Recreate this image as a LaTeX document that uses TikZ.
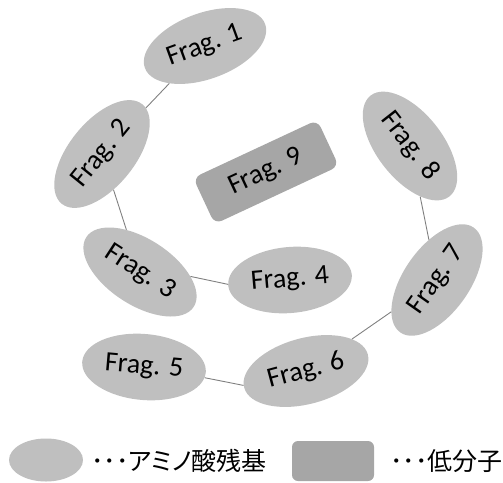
\documentclass[tikz,border=0pt]{standalone}
\usepackage{fontspec}
\setmainfont{Carlito}
\newfontfamily\jpfont[RawFeature=+palt]{Noto Sans CJK JP}
\usetikzlibrary{shapes.geometric}
\definecolor{fragfill}{HTML}{BFBFBF}
\definecolor{molfill}{HTML}{A6A6A6}
\definecolor{linkcol}{HTML}{808080}
\tikzset{
  frag/.style={ellipse, fill=fragfill, minimum width=128pt, minimum height=66pt, inner sep=0pt, font=\fontsize{28}{30}\selectfont},
  mol/.style={rectangle, rounded corners=8pt, fill=molfill, minimum width=137pt, minimum height=51pt, inner sep=0pt, font=\fontsize{28}{30}\selectfont},
  link/.style={draw=linkcol, line width=0.9pt},
  legtext/.style={anchor=west, inner sep=0pt, font=\jpfont\fontsize{25}{27}\selectfont}
}
\begin{document}
\begin{tikzpicture}[x=1pt,y=-1pt]
\useasboundingbox (0,0) rectangle (503,482);
\node[frag, rotate=20] (f1) at (205,46) {Frag. 1};
\node[frag, rotate=51] (f2) at (102,154) {Frag. 2};
\node[frag, rotate=-33] (f3) at (140,272) {Frag. 3};
\node[frag, rotate=5, minimum width=124pt] (f4) at (290,280) {Frag. 4};
\node[frag, rotate=-5, minimum width=124pt] (f5) at (144,367) {Frag. 5};
\node[frag, rotate=15] (f6) at (306,371) {Frag. 6};
\node[frag, rotate=55] (f7) at (437,280) {Frag. 7};
\node[frag, rotate=-52] (f8) at (410,146) {Frag. 8};
\node[mol, rotate=25] (f9) at (266,172) {Frag. 9};
\draw[link] (f1) -- (f2);
\draw[link] (f2) -- (f3);
\draw[link] (f3.28) -- (f4.179);
\draw[link] (f5.-5) -- (f6.178);
\draw[link] (f6) -- (f7);
\draw[link] (f7) -- (f8);
\node[ellipse, fill=fragfill, minimum width=74pt, minimum height=43pt, inner sep=0pt] (la) at (46,460) {};
\node[legtext] (lta) at (91,461) {･･･アミノ酸残基};
\node[rectangle, rounded corners=6pt, fill=molfill, minimum width=82pt, minimum height=40pt, inner sep=0pt] (lb) at (333,461) {};
\node[legtext] (ltb) at (390,461) {･･･低分子};
\end{tikzpicture}
\end{document}
